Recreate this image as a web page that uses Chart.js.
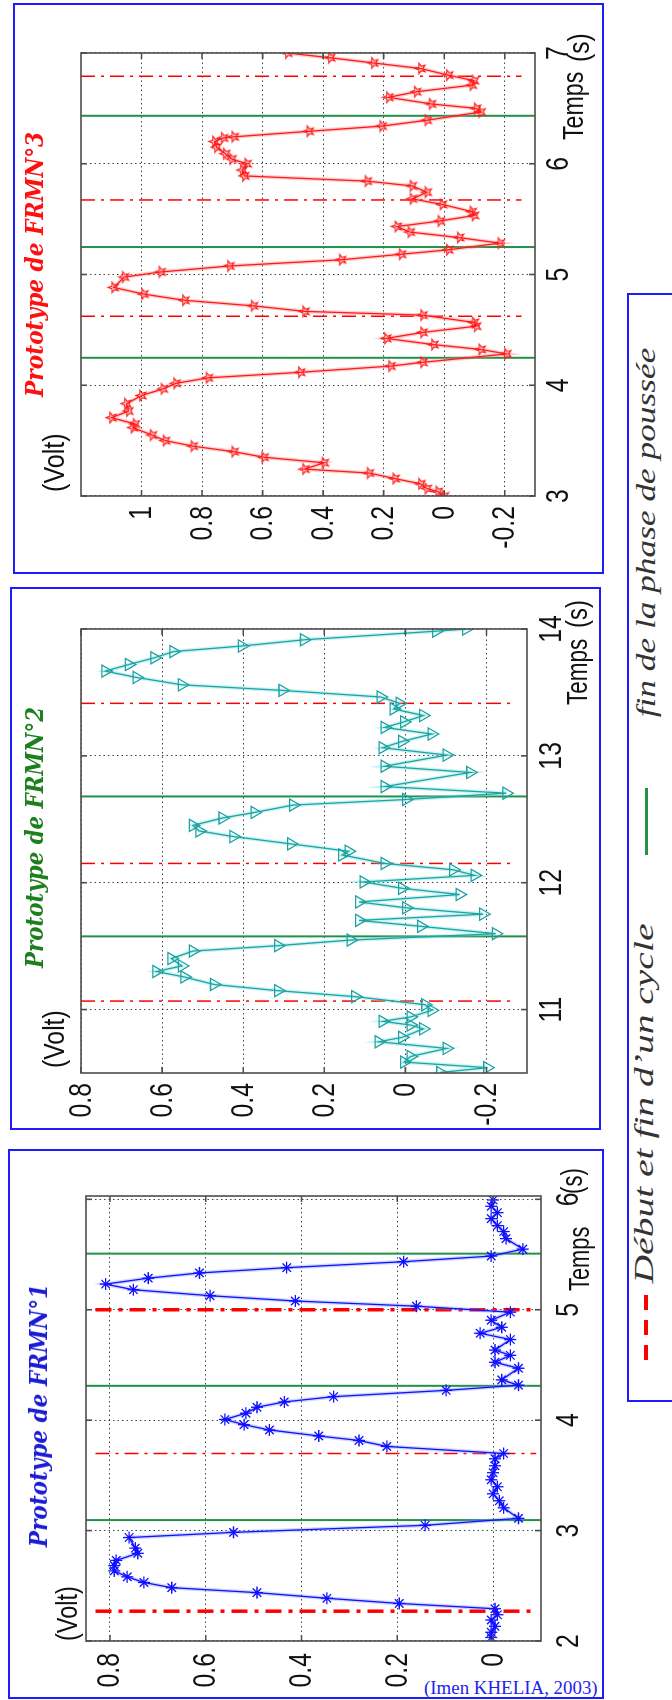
<!DOCTYPE html>
<html>
<head>
<meta charset="utf-8">
<title>Prototypes FRMN</title>
<script src="https://cdn.jsdelivr.net/npm/chart.js@4.4.1/dist/chart.umd.min.js"></script>
<style>
  body { margin: 0; width: 672px; height: 1700px; position: relative; overflow: hidden; background: #fff;
         font-family: "Liberation Sans", Arial, sans-serif; }
  .box { position: absolute; box-sizing: border-box; border: 2px solid #1c1cff; }
  .rot { position: absolute; transform: rotate(-90deg); }
  .rot canvas { position: absolute; left: 0; top: 0; }
  .txt { position: absolute; white-space: nowrap; line-height: 1; transform-origin: 0 0; }
  .axlbl { font-size: 29px; color: #111; }
  .title { font: italic bold 25px "DejaVu Serif", "Liberation Serif", serif; }
  .leg { position: absolute; white-space: nowrap; line-height: 1; font: italic 27px "Liberation Serif", serif; color: #333; }
  .mark { position: absolute; }
  #credit { position: absolute; left: 424px; top: 1677px; white-space: nowrap; line-height: 1;
            font: 19px "Liberation Serif", "Times New Roman", serif; color: #2323e8; transform-origin: 0 0; }
</style>
</head>
<body>
<div class="box" id="legend" style="left:627px; top:293px; width:70px; height:1109px;"></div>
<div class="mark" style="left:645px; top:788px; width:3px; height:67px; background:#23914a;"></div>
<div class="mark" style="left:644px; top:1295px; width:4px; height:15px; background:#ff0000;"></div>
<div class="mark" style="left:644px; top:1320px; width:4px; height:15px; background:#ff0000;"></div>
<div class="mark" style="left:644px; top:1345px; width:4px; height:15px; background:#ff0000;"></div>
<div id="credit">(Imen KHELIA, 2003)</div>

<script>
// Prototype de FRMN°3 (red, pentagrams)
const p3Time = [3.00, 3.04, 3.067, 3.11, 3.157, 3.207, 3.243, 3.30, 3.35, 3.40, 3.45, 3.50, 3.55, 3.617, 3.65,
  3.707, 3.767, 3.833, 3.907, 3.967, 4.017, 4.067, 4.117, 4.173, 4.207, 4.283, 4.323, 4.367, 4.423, 4.477,
  4.533, 4.567, 4.633, 4.667, 4.717, 4.767, 4.823, 4.883, 4.977, 5.023, 5.077, 5.133, 5.183, 5.223, 5.283,
  5.333, 5.383, 5.433, 5.483, 5.533, 5.567, 5.633, 5.683, 5.743, 5.80, 5.843, 5.89, 5.943, 6.0, 6.043,
  6.09, 6.15, 6.2, 6.233, 6.243, 6.293, 6.34, 6.393, 6.467, 6.5, 6.54, 6.6, 6.65, 6.71, 6.75,
  6.8, 6.86, 6.91, 6.957, 7.0];
const p3Volt = [0.000, 0.021, 0.057, 0.078, 0.163, 0.248, 0.461, 0.397, 0.596, 0.695, 0.83, 0.922, 0.965, 1.028, 1.021,
  1.099, 1.043, 1.05, 1.0, 0.929, 0.887, 0.78, 0.475, 0.177, 0.071, -0.206, -0.121, 0.035, 0.191, 0.071,
  -0.106, -0.099, 0.071, 0.461, 0.631, 0.858, 0.993, 1.092, 1.057, 0.936, 0.709, 0.34, 0.142, -0.014, -0.184,
  -0.05, 0.113, 0.156, 0.014, -0.099, -0.092, 0.007, 0.106, 0.057, 0.106, 0.255, 0.66, 0.667, 0.652, 0.702,
  0.723, 0.752, 0.759, 0.73, 0.695, 0.447, 0.206, 0.057, -0.121, -0.106, 0.043, 0.184, 0.092, -0.092, -0.099,
  -0.014, 0.078, 0.234, 0.376, 0.518];
const p3Push = [4.248, 5.248, 6.433];
const p3Cycle = [4.623, 5.673, 6.79];
const p3TimeTicks = [3, 4, 5, 6, 7];
const p3VoltTicks = [-0.2, 0, 0.2, 0.4, 0.6, 0.8, 1];

// Prototype de FRMN°2 (teal, triangles)
const p2Time = [10.504, 10.542, 10.586, 10.63, 10.694, 10.746, 10.781, 10.848, 10.878, 10.907, 10.942, 10.994,
  11.038, 11.102, 11.149, 11.198, 11.257, 11.30, 11.344, 11.402, 11.461, 11.504, 11.548, 11.598, 11.656, 11.703,
  11.752, 11.802, 11.848, 11.907, 11.956, 12.006, 12.058, 12.102, 12.152, 12.219, 12.248, 12.306, 12.364, 12.408,
  12.452, 12.51, 12.554, 12.612, 12.656, 12.706, 12.758, 12.869, 12.918, 13.006, 13.064, 13.114, 13.172, 13.224,
  13.268, 13.318, 13.37, 13.414, 13.464, 13.516, 13.56, 13.618, 13.668, 13.72, 13.773, 13.822, 13.866, 13.915,
  13.983, 14.0];
const p2Volt = [-0.086, -0.202, 0.003, -0.013, -0.102, 0.066, 0.008, -0.044, -0.013, 0.056, -0.013, -0.065,
  -0.049, 0.124, 0.314, 0.472, 0.545, 0.614, 0.551, 0.577, 0.524, 0.314, 0.135, -0.223, -0.039, 0.114,
  -0.192, -0.002, 0.114, -0.134, 0.008, 0.103, -0.171, -0.118, 0.051, 0.156, 0.14, 0.282, 0.424, 0.508,
  0.524, 0.451, 0.372, 0.277, -0.002, -0.249, 0.051, -0.16, 0.051, -0.102, 0.056, 0.008, -0.065, 0.051,
  0.003, -0.044, 0.029, 0.014, 0.061, 0.303, 0.551, 0.663, 0.74, 0.682, 0.619, 0.572, 0.403, 0.25,
  -0.076, -0.15];
const p2Push = [11.577, 12.68];
const p2Cycle = [11.067, 12.152, 13.414];
const p2TimeTicks = [11, 12, 13, 14];
const p2VoltTicks = [-0.2, 0, 0.2, 0.4, 0.6, 0.8];

// Prototype de FRMN°1 (blue, asterisks)
const p1Time = [2.032, 2.079, 2.133, 2.19, 2.238, 2.292, 2.34, 2.387, 2.438, 2.483, 2.53, 2.581, 2.635, 2.683,
  2.73, 2.794, 2.841, 2.937, 2.984, 3.048, 3.111, 3.206, 3.27, 3.333, 3.397, 3.46, 3.524, 3.587, 3.65, 3.698,
  3.762, 3.816, 3.857, 3.911, 3.959, 4.006, 4.063, 4.117, 4.165, 4.213, 4.27, 4.317, 4.365, 4.47, 4.524,
  4.587, 4.635, 4.73, 4.787, 4.841, 4.905, 4.978, 5.032, 5.079, 5.127, 5.181, 5.232, 5.286, 5.333, 5.381,
  5.435, 5.486, 5.549, 5.644, 5.708, 5.762, 5.825, 5.879, 5.937, 5.994];
const p1Volt = [0.004, 0.004, -0.004, 0.004, -0.009, -0.004, 0.196, 0.347, 0.493, 0.671, 0.729, 0.764, 0.791, 0.791,
  0.787, 0.742, 0.747, 0.76, 0.542, 0.142, -0.053, -0.022, -0.013, 0, -0.009, 0.004, 0, -0.004, -0.004, -0.022,
  0.222, 0.28, 0.364, 0.467, 0.52, 0.56, 0.516, 0.493, 0.436, 0.333, 0.098, -0.053, -0.018, -0.053, -0.004,
  -0.036, -0.004, -0.036, 0.027, -0.018, 0.004, -0.036, 0.16, 0.413, 0.591, 0.751, 0.809, 0.72, 0.613, 0.431,
  0.187, 0.004, -0.062, -0.027, -0.022, -0.009, 0.004, -0.009, 0.004, 0];
const p1Push = [3.095, 4.311, 5.508];
const p1Cycle = [2.27, 3.698, 5.0];
const p1CycleWidth = [3.5, 1.5, 3.5];
const p1TimeTicks = [2, 3, 4, 5, 6];
const p1VoltTicks = [0, 0.2, 0.4, 0.6, 0.8];

Chart.defaults.font.family = '"Liberation Sans", Arial, sans-serif';
Chart.defaults.color = '#111';

const TICK_FONT = '31px "Liberation Sans", Arial, sans-serif';
const SQUEEZE = 0.8;

function pentagram(color, r) {
  const c = document.createElement('canvas');
  const s = Math.ceil(r * 2 + 4);
  c.width = c.height = s;
  const g = c.getContext('2d');
  g.strokeStyle = color;
  g.lineWidth = 1.2;
  g.beginPath();
  for (let i = 0; i < 10; i++) {
    const a = -Math.PI / 2 + i * Math.PI / 5;
    const rr = i % 2 ? r * 0.42 : r;
    g.lineTo(s / 2 + rr * Math.cos(a), s / 2 + rr * Math.sin(a));
  }
  g.closePath();
  g.stroke();
  return c;
}

// matlab style box round the axes, inward ticks and narrow tick labels
const axesBox = {
  id: 'axesBox',
  afterDraw(chart, args, opts) {
    const { ctx, chartArea: a, scales } = chart;
    ctx.save();
    ctx.strokeStyle = '#4d4d4d';
    ctx.lineWidth = 1.6;
    ctx.strokeRect(a.left, a.top, a.right - a.left, a.bottom - a.top);
    ctx.beginPath();
    scales.x.ticks.forEach(t => {
      const x = scales.x.getPixelForValue(t.value);
      ctx.moveTo(x, a.bottom); ctx.lineTo(x, a.bottom - 6);
      ctx.moveTo(x, a.top); ctx.lineTo(x, a.top + 6);
    });
    scales.y.ticks.forEach(t => {
      const y = scales.y.getPixelForValue(t.value);
      ctx.moveTo(a.left, y); ctx.lineTo(a.left + 6, y);
      ctx.moveTo(a.right, y); ctx.lineTo(a.right - 6, y);
    });
    ctx.stroke();

    ctx.fillStyle = '#111';
    ctx.font = TICK_FONT;
    ctx.textAlign = 'center';
    ctx.textBaseline = 'alphabetic';
    scales.x.ticks.forEach(t => {
      ctx.save();
      ctx.translate(scales.x.getPixelForValue(t.value), a.bottom + opts.xBase);
      ctx.scale(SQUEEZE, 1);
      ctx.fillText(String(t.value), 0, 0);
      ctx.restore();
    });
    ctx.textAlign = 'right';
    ctx.textBaseline = 'middle';
    scales.y.ticks.forEach(t => {
      ctx.save();
      ctx.translate(a.left - opts.yPad, scales.y.getPixelForValue(t.value) + 1);
      ctx.scale(SQUEEZE, 1);
      ctx.fillText(String(Math.round(t.value * 10) / 10), 0, 0);
      ctx.restore();
    });
    ctx.restore();
  }
};

function addText(parent, text, cls, x, y, w, color) {
  const d = document.createElement('div');
  d.className = 'txt ' + cls;
  d.textContent = text;
  d.style.left = x + 'px';
  d.style.top = y + 'px';
  if (color) d.style.color = color;
  parent.appendChild(d);
  if (w) d.style.transform = 'scaleX(' + (w / d.offsetWidth) + ')';
  return d;
}

function panel(c) {
  const b = c.box, a = c.area;
  const W = b.B - b.T, H = b.R - b.L;              // canvas size before the -90deg turn
  const left = b.B - a.y1, right = b.B - a.y0;
  const top = a.x0 - b.L, bottom = a.x1 - b.L;

  const frame = document.createElement('div');
  frame.className = 'box';
  Object.assign(frame.style, { left: b.L + 'px', top: b.T + 'px', width: (b.R - b.L) + 'px', height: (b.B - b.T) + 'px' });
  document.body.appendChild(frame);

  const rot = document.createElement('div');
  rot.className = 'rot';
  Object.assign(rot.style, { left: ((b.L + b.R - W) / 2) + 'px', top: ((b.T + b.B - H) / 2) + 'px', width: W + 'px', height: H + 'px' });
  document.body.appendChild(rot);
  const cv = document.createElement('canvas');
  cv.width = W;
  cv.height = H;
  rot.appendChild(cv);

  const datasets = [];
  c.push.forEach(t => datasets.push({
    data: [{ x: t, y: c.vMax }, { x: t, y: c.vMin }],
    borderColor: '#23914a', borderWidth: 2, pointRadius: 0, order: 3
  }));
  c.cycle.forEach((t, i) => {
    const w = c.cycleWidth ? c.cycleWidth[i] : 1.5;
    datasets.push({
      data: [{ x: t, y: c.cycleSpan[0] }, { x: t, y: c.cycleSpan[1] }],
      borderColor: '#ff0000', borderWidth: w,
      borderDash: w > 2 ? [16, 7, 4, 7] : [14, 6, 3, 6], pointRadius: 0, order: 2
    });
  });
  const pts = c.time.map((t, i) => ({ x: t, y: c.volt[i] }));
  datasets.push({ data: pts, borderColor: c.halo, borderWidth: 4, pointRadius: 0, order: 1 });
  datasets.push({
    data: pts, borderColor: c.color, borderWidth: 1.3,
    pointStyle: c.marker, pointRadius: c.markerSize, pointRotation: c.markerRot || 0,
    pointBorderColor: c.color, pointBackgroundColor: 'rgba(0,0,0,0)', pointBorderWidth: 1.3, order: 0
  });

  const gridOpts = { color: 'rgba(20,20,20,0.8)', lineWidth: 1, drawTicks: false };
  new Chart(cv, {
    type: 'line',
    data: { datasets },
    options: {
      responsive: false,
      animation: false,
      events: [],
      layout: { autoPadding: false, padding: { left: 0, right: W - right, top: top, bottom: 0 } },
      plugins: {
        legend: { display: false }, tooltip: { enabled: false },
        axesBox: { xBase: c.xBase, yPad: c.yPad }
      },
      scales: {
        x: {
          type: 'linear', min: c.tMin, max: c.tMax,
          afterBuildTicks: s => { s.ticks = c.tTicks.map(v => ({ value: v })); },
          afterFit: s => { s.height = H - bottom; },
          grid: gridOpts,
          border: { display: false, dash: [1.5, 3] },
          ticks: { display: false }
        },
        y: {
          type: 'linear', min: c.vMin, max: c.vMax,
          afterBuildTicks: s => { s.ticks = c.vTicks.map(v => ({ value: v })); },
          afterFit: s => { s.width = left; },
          grid: gridOpts,
          border: { display: false, dash: [1.5, 3] },
          ticks: { display: false }
        }
      }
    },
    plugins: [axesBox]
  });

  const l = c.labels;
  addText(rot, c.title, 'title', l.titleU - l.titleW / 2, l.titleTop, l.titleW, c.titleColor);
  addText(rot, '(Volt)', 'axlbl', l.voltU, l.voltTop, l.voltW);
  addText(rot, 'Temps', 'axlbl', l.tempsU, l.tempsTop, l.tempsW);
  addText(rot, '(s)', 'axlbl', l.sU, l.sTop, l.sW);
}

panel({
  title: 'Prototype de FRMN°3', titleColor: '#ff1010',
  box: { L: 13, T: 3, R: 604, B: 574 },
  area: { x0: 81, x1: 535, y0: 53, y1: 496 },
  tMin: 3, tMax: 7, vMin: -0.3, vMax: 1.2,
  tTicks: p3TimeTicks, vTicks: p3VoltTicks, xBase: 33, yPad: 10,
  time: p3Time, volt: p3Volt, push: p3Push, cycle: p3Cycle, cycleSpan: [1.2, -0.255],
  color: '#ff1a1a', halo: 'rgba(255,120,120,0.35)', marker: pentagram('#ff1a1a', 5.5), markerSize: 6,
  labels: { titleU: 309, titleTop: 7, titleW: 265, voltU: 82, voltTop: 27, voltW: 59,
            tempsU: 434, tempsTop: 546, tempsW: 68, sU: 512, sTop: 552, sW: 29 }
});

panel({
  title: 'Prototype de FRMN°2', titleColor: '#1d7f1d',
  box: { L: 10, T: 587, R: 601, B: 1130 },
  area: { x0: 81, x1: 527, y0: 629, y1: 1073 },
  tMin: 10.5, tMax: 14, vMin: -0.3, vMax: 0.8,
  tTicks: p2TimeTicks, vTicks: p2VoltTicks, xBase: 34, yPad: 10,
  time: p2Time, volt: p2Volt, push: p2Push, cycle: p2Cycle, cycleSpan: [0.8, -0.27],
  color: '#1ea3a3', halo: 'rgba(110,220,220,0.35)', marker: 'triangle', markerSize: 7, markerRot: 180,
  labels: { titleU: 292, titleTop: 10, titleW: 261, voltU: 62, voltTop: 30, voltW: 58,
            tempsU: 425, tempsTop: 553, tempsW: 66, sU: 502, sTop: 553, sW: 28 }
});

panel({
  title: 'Prototype de FRMN°1', titleColor: '#1b1bd6',
  box: { L: 8, T: 1149, R: 604, B: 1699 },
  area: { x0: 86, x1: 541, y0: 1196, y1: 1641 },
  tMin: 2, tMax: 6.03, vMin: -0.1, vMax: 0.85,
  tTicks: p1TimeTicks, vTicks: p1VoltTicks, xBase: 37, yPad: 12,
  time: p1Time, volt: p1Volt, push: p1Push, cycle: p1Cycle, cycleSpan: [0.83, -0.09], cycleWidth: p1CycleWidth,
  color: '#1010ff', halo: 'rgba(120,140,255,0.35)', marker: 'star', markerSize: 6,
  labels: { titleU: 283, titleTop: 16, titleW: 263, voltU: 58, voltTop: 45, voltW: 55,
            tempsU: 408, tempsTop: 557, tempsW: 64, sU: 505, sTop: 550, sW: 26 }
});

// legend texts, turned like the plots
function legendText(text, cx, cy, len) {
  const d = document.createElement('div');
  d.className = 'leg';
  d.textContent = text;
  document.body.appendChild(d);
  const w = d.offsetWidth, h = d.offsetHeight;
  d.style.left = (cx - w / 2) + 'px';
  d.style.top = (cy - h / 2) + 'px';
  d.style.transform = 'rotate(-90deg) scaleX(' + (len / w) + ')';
}
legendText('fin de la phase de poussée', 646, 532, 370);
legendText('Début et fin d\u2019un cycle', 645, 1103, 360);

const credit = document.getElementById('credit');
credit.style.transform = 'scaleX(' + (174 / credit.offsetWidth) + ')';
</script>
</body>
</html>
